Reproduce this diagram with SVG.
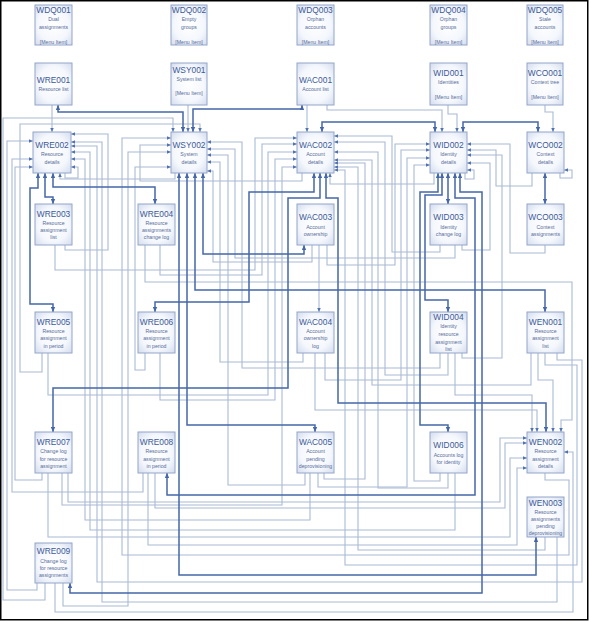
<svg xmlns="http://www.w3.org/2000/svg" width="589" height="621" viewBox="0 0 589 621">
<defs>
<radialGradient id="g" cx="50%" cy="50%" r="70%">
<stop offset="0%" stop-color="#ffffff"/><stop offset="60%" stop-color="#f4f7fc"/><stop offset="100%" stop-color="#d3dcee"/>
</radialGradient>
<marker id="at" viewBox="0 0 6 6" refX="6" refY="3" markerWidth="4" markerHeight="4" markerUnits="userSpaceOnUse" orient="auto"><path d="M0,0.4 L6,3 L0,5.6z" fill="#5272b0"/></marker>
<marker id="ab" viewBox="0 0 6 6" refX="6" refY="3" markerWidth="5" markerHeight="5" markerUnits="userSpaceOnUse" orient="auto-start-reverse"><path d="M0,0.4 L6,3 L0,5.6z" fill="#4567a9"/></marker>
<style>
.n rect{fill:url(#g);stroke:#93a6c9;stroke-width:1}
.n text{font-family:"Liberation Sans",Arial,sans-serif;text-anchor:middle}
.i{font-size:8.4px;fill:#3d5a98}
.s{font-size:5.2px;fill:#566c9c}
.c{fill:none;stroke:#a9bad6;stroke-width:1.1;marker-end:url(#at)}
.b{fill:none;stroke:#4567a9;stroke-width:1.5;marker-start:url(#ab);marker-end:url(#ab)}
</style>
</defs>
<rect width="589" height="621" fill="#fff"/>
<g id="connectors">
<path class="c" d="M52,105 V132"/>
<path class="c" d="M188,105 V132"/>
<path class="c" d="M307,105 V132"/>
<path class="c" d="M327,105 V110 H442 V132"/>
<path class="c" d="M448,105 V114 H457 V132"/>
<path class="c" d="M545,105 V112 H553 V132"/>
<path class="c" d="M45,583 V600 H3 V118 H173 V132"/>
<path class="c" d="M37,583 V590 H7 V141 H33"/>
<path class="c" d="M143,473 V492 H12 V159 H33"/>
<path class="c" d="M42,473 V480 H15 V167 H33"/>
<path class="c" d="M42,353 V372 H20 V124 H200 V132"/>
<path class="c" d="M65,173 V178 H78 V167 H71"/>
<path class="c" d="M65,245 V250 H108 V134 H71"/>
<path class="c" d="M557,537 V602 H102 V142 H71"/>
<path class="c" d="M557,353 V360 H582 V582 H97 V146 H71"/>
<path class="c" d="M455,473 V530 H90 V152 H71"/>
<path class="c" d="M310,473 V520 H85 V159 H71"/>
<path class="c" d="M545,473 V480 H569 V555 H122 V138 H171"/>
<path class="c" d="M63,583 V606 H128 V152 H171"/>
<path class="c" d="M145,353 V370 H135 V167 H171"/>
<path class="c" d="M302,173 V181 H140 V145 H171"/>
<path class="c" d="M175,173 V179 H60 V173"/>
<path class="c" d="M434,173 V184 H330 V173"/>
<path class="c" d="M532,173 V186 H496 V150 H467"/>
<path class="c" d="M312,245 V262 H213 V171 H207"/>
<path class="c" d="M303,353 V362 H220 V162 H207"/>
<path class="c" d="M305,473 V485 H228 V155 H207"/>
<path class="c" d="M455,245 V258 H235 V149 H207"/>
<path class="c" d="M440,353 V368 H242 V142 H207"/>
<path class="c" d="M55,245 V270 H255 V138 H297"/>
<path class="c" d="M160,245 V275 H262 V144 H297"/>
<path class="c" d="M48,353 V395 H268 V152 H297"/>
<path class="c" d="M160,353 V400 H275 V159 H297"/>
<path class="c" d="M62,473 V505 H282 V167 H297"/>
<path class="c" d="M440,245 V252 H392 V136 H334"/>
<path class="c" d="M448,353 V375 H385 V142 H334"/>
<path class="c" d="M448,473 V488 H378 V152 H334"/>
<path class="c" d="M531,353 V385 H372 V160 H334"/>
<path class="c" d="M324,473 V479 H365 V163 H334"/>
<path class="c" d="M545,537 V550 H358 V167 H334"/>
<path class="c" d="M545,353 V365 H577 V565 H345 V170 H334"/>
<path class="c" d="M327,245 V265 H395 V144 H430"/>
<path class="c" d="M325,353 V380 H401 V150 H430"/>
<path class="c" d="M318,473 V487 H407 V158 H430"/>
<path class="c" d="M440,473 V481 H414 V165 H430"/>
<path class="c" d="M545,245 V253 H510 V144 H467"/>
<path class="c" d="M462,353 V358 H502 V155 H467"/>
<path class="c" d="M462,245 V250 H490 V163 H467"/>
<path class="c" d="M465,173 V179 H474 V170 H467"/>
<path class="c" d="M560,173 V178 H572 V170 H564"/>
<path class="c" d="M319,245 V312"/>
<path class="c" d="M455,353 V395 H532 V432"/>
<path class="c" d="M315,353 V410 H537 V432"/>
<path class="c" d="M538,353 V380 H553 V432"/>
<path class="c" d="M145,245 V282 H572 V420 H561 V432"/>
<path class="c" d="M68,473 V502 H500 V438 H527"/>
<path class="c" d="M155,473 V508 H505 V443 H527"/>
<path class="c" d="M48,473 V537 H510 V458 H527"/>
<path class="c" d="M148,473 V545 H517 V468 H527"/>
<path class="c" d="M55,583 V612 H573 V452 H564"/>
<path class="b" d="M58,105 V112 H183 V132"/>
<path class="b" d="M302,105 V109 H193 V132"/>
<path class="b" d="M322,132 V122 H435 V132"/>
<path class="b" d="M463,132 V122 H538 V132"/>
<path class="b" d="M545,173 V204"/>
<path class="b" d="M448,173 V204"/>
<path class="b" d="M45,173 V197 H53 V204"/>
<path class="b" d="M53,173 V187 H155 V204"/>
<path class="b" d="M38,173 V188 H30 V304 H53 V312"/>
<path class="b" d="M203,173 V254 H304 V245"/>
<path class="b" d="M195,173 V290 H545 V312"/>
<path class="b" d="M179,173 V575 H536 V537"/>
<path class="b" d="M187,173 V425 H315 V432"/>
<path class="b" d="M314,173 V192 H249 V302 H155 V312"/>
<path class="b" d="M320,173 V198 H288 V388 H53 V432"/>
<path class="b" d="M326,173 V198 H338 V403 H546 V432"/>
<path class="b" d="M438,173 V192 H420 V425 H448 V432"/>
<path class="b" d="M442,173 V195 H425 V300 H448 V312"/>
<path class="b" d="M455,173 V198 H475 V495 H167 V473"/>
<path class="b" d="M460,173 V192 H482 V593 H70 V583"/>
</g>
<g id="WDQ001" class="n"><rect x="35" y="5" width="37" height="40"/><text class="i" x="53.5" y="12.5">WDQ001</text><text class="s" x="53.5" y="21">Dual</text><text class="s" x="53.5" y="28.5">assignments</text><text class="s" x="53.5" y="43.5">[Menu Item]</text></g>
<g id="WDQ002" class="n"><rect x="171" y="5" width="36" height="40"/><text class="i" x="189" y="12.5">WDQ002</text><text class="s" x="189" y="21">Empty</text><text class="s" x="189" y="28.5">groups</text><text class="s" x="189" y="43.5">[Menu Item]</text></g>
<g id="WDQ003" class="n"><rect x="297" y="5" width="37" height="40"/><text class="i" x="315.5" y="12.5">WDQ003</text><text class="s" x="315.5" y="21">Orphan</text><text class="s" x="315.5" y="28.5">accounts</text><text class="s" x="315.5" y="43.5">[Menu Item]</text></g>
<g id="WDQ004" class="n"><rect x="430" y="5" width="37" height="40"/><text class="i" x="448.5" y="12.5">WDQ004</text><text class="s" x="448.5" y="21">Orphan</text><text class="s" x="448.5" y="28.5">groups</text><text class="s" x="448.5" y="43.5">[Menu Item]</text></g>
<g id="WDQ005" class="n"><rect x="527" y="5" width="36" height="40"/><text class="i" x="545" y="12.5">WDQ005</text><text class="s" x="545" y="21">Stale</text><text class="s" x="545" y="28.5">accounts</text><text class="s" x="545" y="43.5">[Menu Item]</text></g>
<g id="WRE001" class="n"><rect x="35" y="63" width="37" height="42"/><text class="i" x="53.5" y="83">WRE001</text><text class="s" x="53.5" y="91">Resource list</text></g>
<g id="WSY001" class="n"><rect x="171" y="63" width="36" height="42"/><text class="i" x="189" y="72.5">WSY001</text><text class="s" x="189" y="81">System list</text><text class="s" x="189" y="95">[Menu Item]</text></g>
<g id="WAC001" class="n"><rect x="297" y="63" width="37" height="42"/><text class="i" x="315.5" y="83">WAC001</text><text class="s" x="315.5" y="91">Account list</text></g>
<g id="WID001" class="n"><rect x="430" y="63" width="37" height="42"/><text class="i" x="448.5" y="76">WID001</text><text class="s" x="448.5" y="84">Identities</text><text class="s" x="448.5" y="99">[Menu Item]</text></g>
<g id="WCO001" class="n"><rect x="527" y="63" width="36" height="42"/><text class="i" x="545" y="76">WCO001</text><text class="s" x="545" y="84">Context tree</text><text class="s" x="545" y="99">[Menu Item]</text></g>
<g id="WRE002" class="n"><rect x="33" y="132" width="38" height="41"/><text class="i" x="52" y="147.5">WRE002</text><text class="s" x="52" y="156">Resource</text><text class="s" x="52" y="163.5">details</text></g>
<g id="WSY002" class="n"><rect x="171" y="132" width="36" height="41"/><text class="i" x="189" y="147.5">WSY002</text><text class="s" x="189" y="156">System</text><text class="s" x="189" y="163.5">details</text></g>
<g id="WAC002" class="n"><rect x="297" y="132" width="37" height="41"/><text class="i" x="315.5" y="147.5">WAC002</text><text class="s" x="315.5" y="156">Account</text><text class="s" x="315.5" y="163.5">details</text></g>
<g id="WID002" class="n"><rect x="430" y="132" width="37" height="41"/><text class="i" x="448.5" y="147.5">WID002</text><text class="s" x="448.5" y="156">Identity</text><text class="s" x="448.5" y="163.5">details</text></g>
<g id="WCO002" class="n"><rect x="527" y="132" width="37" height="41"/><text class="i" x="545.5" y="147.5">WCO002</text><text class="s" x="545.5" y="156">Context</text><text class="s" x="545.5" y="163.5">details</text></g>
<g id="WRE003" class="n"><rect x="35" y="204" width="37" height="41"/><text class="i" x="53.5" y="216.5">WRE003</text><text class="s" x="53.5" y="224.5">Resource</text><text class="s" x="53.5" y="232">assignment</text><text class="s" x="53.5" y="239">list</text></g>
<g id="WRE004" class="n"><rect x="138" y="204" width="37" height="41"/><text class="i" x="156.5" y="216.5">WRE004</text><text class="s" x="156.5" y="224.5">Resource</text><text class="s" x="156.5" y="232">assignments</text><text class="s" x="156.5" y="239">change log</text></g>
<g id="WAC003" class="n"><rect x="297" y="204" width="37" height="41"/><text class="i" x="315.5" y="220">WAC003</text><text class="s" x="315.5" y="228.5">Account</text><text class="s" x="315.5" y="236">ownership</text></g>
<g id="WID003" class="n"><rect x="430" y="204" width="37" height="41"/><text class="i" x="448.5" y="220">WID003</text><text class="s" x="448.5" y="228.5">Identity</text><text class="s" x="448.5" y="236">change log</text></g>
<g id="WCO003" class="n"><rect x="527" y="204" width="37" height="41"/><text class="i" x="545.5" y="220">WCO003</text><text class="s" x="545.5" y="228.5">Context</text><text class="s" x="545.5" y="236">assignments</text></g>
<g id="WRE005" class="n"><rect x="35" y="312" width="37" height="41"/><text class="i" x="53.5" y="324.5">WRE005</text><text class="s" x="53.5" y="332.5">Resource</text><text class="s" x="53.5" y="340">assignment</text><text class="s" x="53.5" y="347.5">in period</text></g>
<g id="WRE006" class="n"><rect x="138" y="312" width="37" height="41"/><text class="i" x="156.5" y="324.5">WRE006</text><text class="s" x="156.5" y="332.5">Resource</text><text class="s" x="156.5" y="340">assignment</text><text class="s" x="156.5" y="347.5">in period</text></g>
<g id="WAC004" class="n"><rect x="297" y="312" width="37" height="41"/><text class="i" x="315.5" y="324.5">WAC004</text><text class="s" x="315.5" y="332.5">Account</text><text class="s" x="315.5" y="340">ownership</text><text class="s" x="315.5" y="347.5">log</text></g>
<g id="WID004" class="n"><rect x="430" y="312" width="37" height="41"/><text class="i" x="448.5" y="320">WID004</text><text class="s" x="448.5" y="328">Identity</text><text class="s" x="448.5" y="336">resource</text><text class="s" x="448.5" y="343.5">assignment</text><text class="s" x="448.5" y="351">list</text></g>
<g id="WEN001" class="n"><rect x="527" y="312" width="37" height="41"/><text class="i" x="545.5" y="324.5">WEN001</text><text class="s" x="545.5" y="332.5">Resource</text><text class="s" x="545.5" y="340">assignment</text><text class="s" x="545.5" y="347.5">list</text></g>
<g id="WRE007" class="n"><rect x="35" y="432" width="37" height="41"/><text class="i" x="53.5" y="445">WRE007</text><text class="s" x="53.5" y="453">Change log</text><text class="s" x="53.5" y="460.5">for resource</text><text class="s" x="53.5" y="468">assignment</text></g>
<g id="WRE008" class="n"><rect x="138" y="432" width="37" height="41"/><text class="i" x="156.5" y="445">WRE008</text><text class="s" x="156.5" y="453">Resource</text><text class="s" x="156.5" y="460.5">assignment</text><text class="s" x="156.5" y="468">in period</text></g>
<g id="WAC005" class="n"><rect x="297" y="432" width="37" height="41"/><text class="i" x="315.5" y="445">WAC005</text><text class="s" x="315.5" y="453">Account</text><text class="s" x="315.5" y="460.5">pending</text><text class="s" x="315.5" y="468">deprovisioning</text></g>
<g id="WID006" class="n"><rect x="430" y="432" width="37" height="41"/><text class="i" x="448.5" y="448">WID006</text><text class="s" x="448.5" y="457">Accounts log</text><text class="s" x="448.5" y="464">for identity</text></g>
<g id="WEN002" class="n"><rect x="527" y="432" width="37" height="41"/><text class="i" x="545.5" y="445">WEN002</text><text class="s" x="545.5" y="453">Resource</text><text class="s" x="545.5" y="460.5">assignment</text><text class="s" x="545.5" y="468">details</text></g>
<g id="WEN003" class="n"><rect x="527" y="497" width="37" height="40"/><text class="i" x="545.5" y="505.5">WEN003</text><text class="s" x="545.5" y="513.5">Resource</text><text class="s" x="545.5" y="520.5">assignments</text><text class="s" x="545.5" y="527.5">pending</text><text class="s" x="545.5" y="534.5">deprovisioning</text></g>
<g id="WRE009" class="n"><rect x="35" y="543" width="37" height="40"/><text class="i" x="53.5" y="554">WRE009</text><text class="s" x="53.5" y="562.5">Change log</text><text class="s" x="53.5" y="569.5">for resource</text><text class="s" x="53.5" y="576.5">assignments</text></g>
<rect x="0.75" y="0.75" width="587" height="619" fill="none" stroke="#000" stroke-width="1.5"/>
</svg>
